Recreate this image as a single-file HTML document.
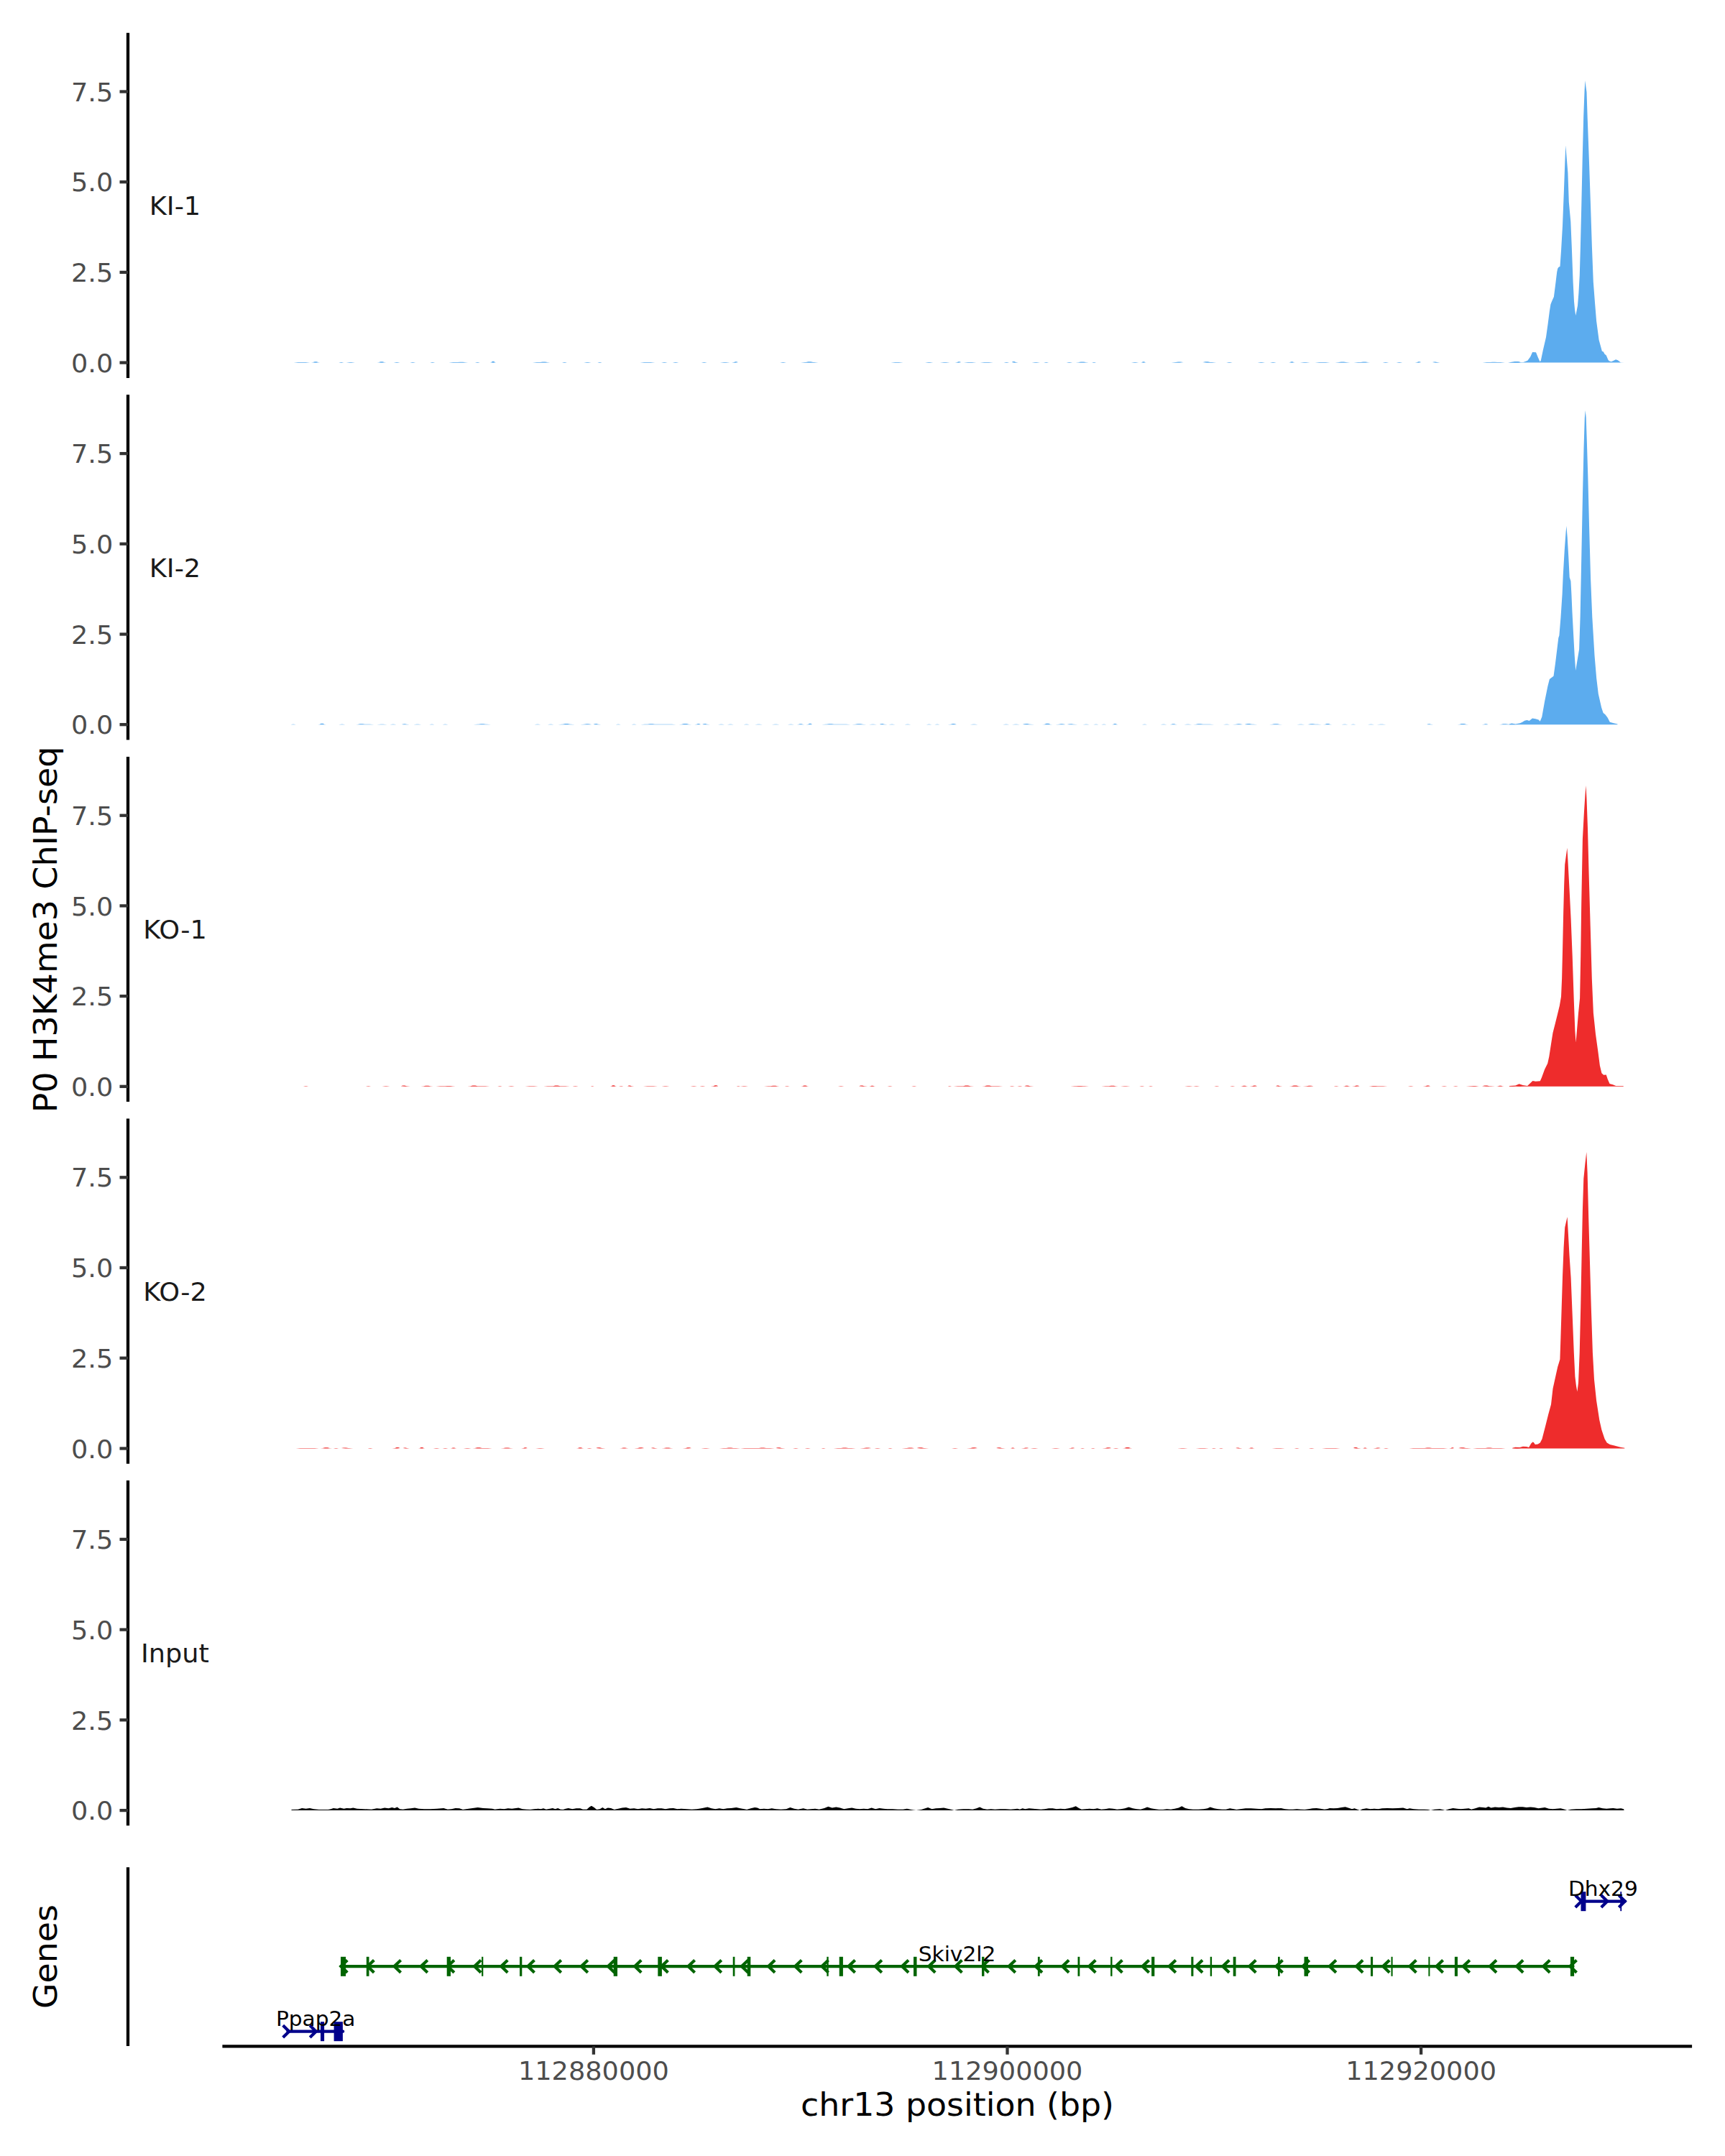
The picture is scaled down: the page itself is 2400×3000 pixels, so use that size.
<!DOCTYPE html>
<html lang="en"><head><meta charset="utf-8"><title>chr13 H3K4me3 ChIP-seq coverage</title>
<style>html,body{margin:0;padding:0;background:#fff}body{width:2400px;height:3000px;overflow:hidden}svg{display:block}text{font-family:"DejaVu Sans","Liberation Sans",sans-serif}.tk{font-size:36.67px;fill:#4d4d4d}.lb{font-size:36.67px;fill:#1a1a1a}.ti{font-size:45.83px;fill:#000}.gn{font-size:29.64px;fill:#000}</style></head><body>
<svg width="2400" height="3000" viewBox="0 0 2400 3000">
<rect width="2400" height="3000" fill="#fff"/>
<g>
<line x1="178.0" y1="45.7" x2="178.0" y2="525.9" stroke="#000" stroke-width="4.3"/>
<line x1="166.5" y1="504.6" x2="178.0" y2="504.6" stroke="#333" stroke-width="4.3"/>
<text class="tk" transform="translate(157.3,518.0) scale(1,0.965)" text-anchor="end">0.0</text>
<line x1="166.5" y1="378.9" x2="178.0" y2="378.9" stroke="#333" stroke-width="4.3"/>
<text class="tk" transform="translate(157.3,392.0) scale(1,0.965)" text-anchor="end">2.5</text>
<line x1="166.5" y1="253.2" x2="178.0" y2="253.2" stroke="#333" stroke-width="4.3"/>
<text class="tk" transform="translate(157.3,266.0) scale(1,0.965)" text-anchor="end">5.0</text>
<line x1="166.5" y1="127.5" x2="178.0" y2="127.5" stroke="#333" stroke-width="4.3"/>
<text class="tk" transform="translate(157.3,141.0) scale(1,0.965)" text-anchor="end">7.5</text>
<text class="lb" transform="translate(243.5,299.0) scale(1,0.965)" text-anchor="middle">KI-1</text>
<path d="M2100.0,504.6L2100.0,504.2L2107.8,502.9L2111.7,502.9L2115.6,504.2L2119.5,503.9L2125.3,501.7L2129.2,496.5L2132.1,490.0L2137.0,490.2L2139.9,497.4L2142.5,503.3L2143.8,501.7L2146.7,487.7L2151.0,469.2L2153.6,450.7L2155.9,433.1L2157.4,423.4L2159.4,418.5L2161.9,413.1L2164.3,394.2L2166.2,378.6L2167.2,373.7L2168.5,371.8L2170.5,370.8L2172.1,347.4L2174.0,314.3L2175.9,265.6L2177.3,226.6L2178.3,202.3L2179.8,220.8L2181.4,240.3L2182.8,281.2L2185.3,308.5L2186.7,341.6L2188.6,392.2L2190.0,419.5L2191.1,431.2L2192.3,439.0L2193.5,433.1L2195.0,425.3L2196.4,407.8L2197.8,382.5L2198.9,343.5L2200.3,285.1L2201.7,220.8L2203.2,162.3L2204.6,125.3L2205.4,112.1L2206.3,119.5L2207.5,128.2L2208.7,164.3L2211.0,226.6L2213.0,285.1L2214.9,343.5L2216.8,392.2L2219.2,423.4L2221.1,446.8L2224.6,473.1L2227.0,481.8L2228.9,488.7L2230.9,489.6L2232.4,492.6L2234.8,494.5L2237.3,500.4L2238.7,502.3L2241.8,503.3L2245.1,501.7L2248.0,500.2L2250.9,501.3L2254.8,504.2L2259.7,504.6L2259.7,504.6 Z" fill="#5CACEE"/>
<path d="M408.7,504.65 L414.7,504.10 L425.3,504.10 L431.3,504.65 ZM433.0,504.65 L437.9,504.10 L435.5,504.10 L437.9,503.27 L440.4,503.27 L442.8,504.10 L440.3,504.10 L445.2,504.65 ZM471.3,504.65 L474.1,504.10 L475.5,504.10 L478.3,504.65 ZM481.7,504.65 L486.6,504.10 L489.0,504.10 L493.9,504.65 ZM524.5,504.65 L529.7,504.10 L527.1,504.10 L529.6,503.37 L532.3,503.37 L534.8,504.10 L532.2,504.10 L537.4,504.65 ZM547.8,504.65 L551.3,504.10 L553.0,504.10 L556.5,504.65 ZM570.4,504.65 L573.5,504.10 L575.0,504.10 L578.1,504.65 ZM598.3,504.65 L601.0,504.10 L602.4,504.10 L605.2,504.65 ZM624.3,504.65 L630.3,504.10 L636.8,504.10 L640.0,503.67 L643.5,503.67 L646.8,504.10 L645.1,504.10 L651.1,504.65 ZM660.9,504.65 L663.7,504.10 L665.0,504.10 L667.8,504.65 ZM681.7,504.65 L685.2,504.10 L683.5,504.10 L685.2,502.87 L687.0,502.87 L688.7,504.10 L687.0,504.10 L690.4,504.65 ZM740.9,504.65 L746.9,504.10 L751.7,504.10 L754.9,503.62 L758.4,503.62 L761.7,504.10 L759.2,504.10 L765.2,504.65 ZM781.9,504.65 L784.7,504.10 L786.1,504.10 L788.9,504.65 ZM812.2,504.65 L816.3,504.10 L818.4,504.10 L822.6,504.65 ZM831.3,504.65 L833.8,504.10 L835.1,504.10 L837.6,504.65 ZM890.4,504.65 L896.4,504.10 L905.3,504.10 L911.3,504.65 ZM920.0,504.65 L923.5,504.10 L925.2,504.10 L928.7,504.65 ZM935.7,504.65 L939.1,504.10 L940.9,504.10 L944.3,504.65 ZM975.7,504.65 L978.9,504.10 L980.5,504.10 L983.7,504.65 ZM1001.7,504.65 L1007.3,504.10 L1010.1,504.10 L1015.7,504.65 ZM1018.1,504.65 L1021.7,504.10 L1021.3,504.10 L1023.0,503.27 L1024.9,503.27 L1026.7,504.10 L1023.5,504.10 L1027.1,504.65 ZM1085.2,504.65 L1088.7,504.10 L1090.4,504.10 L1093.9,504.65 ZM1114.1,504.65 L1120.1,504.10 L1121.3,504.10 L1124.5,503.22 L1128.0,503.22 L1131.3,504.10 L1132.4,504.10 L1138.4,504.65 ZM1239.3,504.65 L1245.3,504.10 L1250.7,504.10 L1256.7,504.65 ZM1287.0,504.65 L1291.5,504.10 L1293.8,504.10 L1298.4,504.65 ZM1307.8,504.65 L1313.4,504.10 L1316.2,504.10 L1321.7,504.65 ZM1328.7,504.65 L1332.2,504.10 L1331.7,504.10 L1333.4,503.27 L1335.3,503.27 L1337.0,504.10 L1333.9,504.10 L1337.4,504.65 ZM1340.9,504.65 L1346.9,504.10 L1352.3,504.10 L1358.3,504.65 ZM1363.5,504.65 L1369.5,504.10 L1375.9,504.10 L1381.9,504.65 ZM1396.5,504.65 L1399.6,504.10 L1401.1,504.10 L1404.2,504.65 ZM1407.7,504.65 L1411.3,504.10 L1407.7,504.10 L1409.4,503.07 L1411.3,503.07 L1413.1,504.10 L1413.1,504.10 L1416.7,504.65 ZM1435.5,504.65 L1440.1,504.10 L1442.4,504.10 L1447.0,504.65 ZM1452.2,504.65 L1455.0,504.10 L1456.3,504.10 L1459.1,504.65 ZM1483.5,504.65 L1487.0,504.10 L1488.7,504.10 L1492.2,504.65 ZM1496.7,504.65 L1502.7,504.10 L1500.7,504.10 L1504.0,503.47 L1507.5,503.47 L1510.7,504.10 L1508.8,504.10 L1514.8,504.65 ZM1519.0,504.65 L1521.5,504.10 L1522.7,504.10 L1525.2,504.65 ZM1573.9,504.65 L1578.1,504.10 L1580.2,504.10 L1584.3,504.65 ZM1587.1,504.65 L1590.2,504.10 L1588.7,504.10 L1590.2,503.17 L1591.8,503.17 L1593.3,504.10 L1591.7,504.10 L1594.8,504.65 ZM1629.6,504.65 L1635.6,504.10 L1635.9,504.10 L1639.1,503.57 L1642.6,503.57 L1645.9,504.10 L1641.0,504.10 L1647.0,504.65 ZM1673.0,504.65 L1679.0,504.10 L1673.8,504.10 L1677.0,503.37 L1680.5,503.37 L1683.8,504.10 L1686.2,504.10 L1692.2,504.65 ZM1706.1,504.65 L1709.6,504.10 L1711.3,504.10 L1714.8,504.65 ZM1749.6,504.65 L1753.7,504.10 L1755.8,504.10 L1760.0,504.65 ZM1767.0,504.65 L1770.4,504.10 L1772.2,504.10 L1775.7,504.65 ZM1793.0,504.65 L1796.5,504.10 L1794.8,504.10 L1796.5,503.27 L1798.3,503.27 L1800.0,504.10 L1798.3,504.10 L1801.7,504.65 ZM1808.7,504.65 L1814.3,504.10 L1817.0,504.10 L1822.6,504.65 ZM1829.6,504.65 L1835.6,504.10 L1844.4,504.10 L1850.4,504.65 ZM1857.4,504.65 L1863.4,504.10 L1862.8,504.10 L1866.1,503.57 L1869.6,503.57 L1872.8,504.10 L1872.3,504.10 L1878.3,504.65 ZM1883.5,504.65 L1889.5,504.10 L1893.2,504.10 L1896.4,503.47 L1899.9,503.47 L1903.2,504.10 L1900.1,504.10 L1906.1,504.65 ZM1923.5,504.65 L1927.0,504.10 L1928.7,504.10 L1932.2,504.65 ZM1942.6,504.65 L1946.1,504.10 L1947.8,504.10 L1951.3,504.65 ZM1968.7,504.65 L1972.2,504.10 L1971.7,504.10 L1973.4,503.27 L1975.3,503.27 L1977.0,504.10 L1973.9,504.10 L1977.4,504.65 ZM1993.0,504.65 L1997.2,504.10 L1993.0,504.10 L1995.1,503.57 L1997.3,503.57 L1999.3,504.10 L1999.3,504.10 L2003.5,504.65 ZM2062.6,504.65 L2068.6,504.10 L2073.3,504.10 L2076.5,503.67 L2080.0,503.67 L2083.3,504.10 L2087.9,504.10 L2093.9,504.65 ZM2097.4,504.65 L2103.4,504.10 L2106.0,504.10 L2109.2,503.37 L2112.7,503.37 L2116.0,504.10 L2112.3,504.10 L2118.3,504.65 Z" fill="#5CACEE"/>
</g>
<g>
<line x1="178.0" y1="549.3" x2="178.0" y2="1029.5" stroke="#000" stroke-width="4.3"/>
<line x1="166.5" y1="1008.2" x2="178.0" y2="1008.2" stroke="#333" stroke-width="4.3"/>
<text class="tk" transform="translate(157.3,1021.0) scale(1,0.965)" text-anchor="end">0.0</text>
<line x1="166.5" y1="882.5" x2="178.0" y2="882.5" stroke="#333" stroke-width="4.3"/>
<text class="tk" transform="translate(157.3,896.0) scale(1,0.965)" text-anchor="end">2.5</text>
<line x1="166.5" y1="756.8" x2="178.0" y2="756.8" stroke="#333" stroke-width="4.3"/>
<text class="tk" transform="translate(157.3,770.0) scale(1,0.965)" text-anchor="end">5.0</text>
<line x1="166.5" y1="631.1" x2="178.0" y2="631.1" stroke="#333" stroke-width="4.3"/>
<text class="tk" transform="translate(157.3,644.0) scale(1,0.965)" text-anchor="end">7.5</text>
<text class="lb" transform="translate(243.5,803.0) scale(1,0.965)" text-anchor="middle">KI-2</text>
<path d="M2100.0,1008.2L2100.0,1007.4L2103.2,1006.6L2108.5,1007.4L2114.9,1006.3L2118.1,1004.8L2121.3,1002.7L2124.5,1002.1L2127.7,1002.9L2132.0,999.5L2136.3,1000.2L2140.6,1001.6L2142.7,1003.8L2145.3,997.4L2149.1,976.0L2153.4,954.7L2155.9,945.1L2161.5,940.8L2164.0,922.7L2166.6,901.4L2168.3,887.5L2169.4,884.3L2171.5,858.7L2173.6,826.7L2174.7,801.1L2176.8,764.8L2178.5,741.4L2179.4,731.8L2180.7,747.8L2182.2,773.4L2183.7,803.2L2185.4,808.6L2186.4,826.7L2187.5,852.3L2189.2,884.3L2190.7,912.0L2192.2,932.9L2193.9,922.7L2197.1,903.5L2198.6,858.7L2200.3,773.4L2202.0,688.0L2203.5,624.0L2204.8,581.3L2205.7,571.1L2206.7,581.3L2207.8,613.3L2209.3,662.4L2211.0,730.7L2213.1,805.4L2215.3,858.7L2218.5,912.0L2221.2,944.0L2223.8,965.4L2228.1,984.6L2230.6,992.0L2233.4,994.2L2236.6,998.4L2239.8,1004.8L2245.1,1006.3L2250.5,1007.4L2250.5,1008.2 Z" fill="#5CACEE"/>
<path d="M404.4,1008.25 L407.3,1007.70 L408.8,1007.70 L411.7,1008.25 ZM442.0,1008.25 L446.8,1007.70 L444.4,1007.70 L446.8,1006.73 L449.3,1006.73 L451.6,1007.70 L449.2,1007.70 L454.1,1008.25 ZM471.2,1008.25 L474.9,1007.70 L476.7,1007.70 L480.4,1008.25 ZM495.0,1008.25 L501.0,1007.70 L497.6,1007.70 L500.9,1007.23 L504.4,1007.23 L507.6,1007.70 L514.5,1007.70 L520.5,1008.25 ZM524.2,1008.25 L530.0,1007.70 L532.9,1007.70 L538.8,1008.25 ZM542.4,1008.25 L546.1,1007.70 L547.9,1007.70 L551.6,1008.25 ZM558.9,1008.25 L563.3,1007.70 L558.9,1007.70 L561.0,1007.18 L563.3,1007.18 L565.4,1007.70 L565.4,1007.70 L569.8,1008.25 ZM575.3,1008.25 L579.7,1007.70 L581.9,1007.70 L586.3,1008.25 ZM597.2,1008.25 L600.1,1007.70 L601.6,1007.70 L604.5,1008.25 ZM615.5,1008.25 L618.7,1007.70 L620.3,1007.70 L623.5,1008.25 ZM658.6,1008.25 L664.6,1007.70 L665.8,1007.70 L669.1,1007.18 L672.6,1007.18 L675.8,1007.70 L677.1,1007.70 L683.1,1008.25 ZM743.3,1008.25 L747.0,1007.70 L748.8,1007.70 L752.4,1008.25 ZM761.6,1008.25 L765.2,1007.70 L767.1,1007.70 L770.7,1008.25 ZM776.2,1008.25 L782.2,1007.70 L783.1,1007.70 L786.3,1007.08 L789.8,1007.08 L793.1,1007.70 L793.9,1007.70 L799.9,1008.25 ZM807.2,1008.25 L813.2,1007.70 L813.0,1007.70 L816.2,1007.18 L819.6,1007.18 L822.8,1007.70 L817.7,1007.70 L823.7,1008.25 ZM825.5,1008.25 L829.9,1007.70 L825.5,1007.70 L827.6,1006.98 L829.9,1006.98 L832.1,1007.70 L832.1,1007.70 L836.4,1008.25 ZM856.5,1008.25 L859.5,1007.70 L860.9,1007.70 L863.8,1008.25 ZM878.5,1008.25 L881.4,1007.70 L882.8,1007.70 L885.8,1008.25 ZM891.2,1008.25 L897.2,1007.70 L901.0,1007.70 L904.3,1007.23 L907.8,1007.23 L911.0,1007.70 L934.5,1007.70 L940.5,1008.25 ZM944.2,1008.25 L950.2,1007.70 L948.3,1007.70 L951.6,1006.98 L955.1,1006.98 L958.3,1007.70 L956.5,1007.70 L962.5,1008.25 ZM966.1,1008.25 L969.8,1007.70 L969.3,1007.70 L971.1,1006.88 L973.0,1006.88 L974.8,1007.70 L971.6,1007.70 L975.2,1008.25 ZM977.1,1008.25 L981.4,1007.70 L977.1,1007.70 L979.2,1006.88 L981.5,1006.88 L983.6,1007.70 L983.6,1007.70 L988.0,1008.25 ZM999.0,1008.25 L1002.6,1007.70 L1004.5,1007.70 L1008.1,1008.25 ZM1011.8,1008.25 L1015.4,1007.70 L1017.2,1007.70 L1020.9,1008.25 ZM1034.4,1008.25 L1037.7,1007.70 L1039.4,1007.70 L1042.8,1008.25 ZM1050.1,1008.25 L1054.5,1007.70 L1056.7,1007.70 L1061.0,1008.25 ZM1073.8,1008.25 L1078.2,1007.70 L1080.4,1007.70 L1084.8,1008.25 ZM1095.7,1008.25 L1099.4,1007.70 L1101.2,1007.70 L1104.9,1008.25 ZM1108.5,1008.25 L1112.9,1007.70 L1110.7,1007.70 L1112.9,1007.18 L1115.2,1007.18 L1117.3,1007.70 L1115.1,1007.70 L1119.5,1008.25 ZM1121.3,1008.25 L1125.0,1007.70 L1124.5,1007.70 L1126.3,1006.68 L1128.2,1006.68 L1130.0,1007.70 L1126.8,1007.70 L1130.4,1008.25 ZM1143.2,1008.25 L1149.2,1007.70 L1150.3,1007.70 L1153.5,1007.23 L1157.0,1007.23 L1160.3,1007.70 L1177.4,1007.70 L1183.4,1008.25 ZM1185.2,1008.25 L1191.2,1007.70 L1190.3,1007.70 L1193.5,1007.18 L1197.0,1007.18 L1200.3,1007.70 L1199.3,1007.70 L1205.3,1008.25 ZM1209.0,1008.25 L1213.3,1007.70 L1215.5,1007.70 L1219.9,1008.25 ZM1223.6,1008.25 L1228.0,1007.70 L1223.6,1007.70 L1225.7,1007.08 L1228.0,1007.08 L1230.1,1007.70 L1230.1,1007.70 L1234.5,1008.25 ZM1236.4,1008.25 L1240.0,1007.70 L1241.8,1007.70 L1245.5,1008.25 ZM1258.3,1008.25 L1261.9,1007.70 L1263.7,1007.70 L1267.4,1008.25 ZM1288.6,1008.25 L1291.8,1007.70 L1293.4,1007.70 L1296.6,1008.25 ZM1300.3,1008.25 L1303.2,1007.70 L1304.7,1007.70 L1307.6,1008.25 ZM1318.5,1008.25 L1323.6,1007.70 L1323.0,1007.70 L1325.5,1007.08 L1328.2,1007.08 L1330.7,1007.70 L1326.2,1007.70 L1331.3,1008.25 ZM1349.6,1008.25 L1354.0,1007.70 L1356.2,1007.70 L1360.5,1008.25 ZM1395.2,1008.25 L1398.9,1007.70 L1400.7,1007.70 L1404.4,1008.25 ZM1408.0,1008.25 L1412.4,1007.70 L1414.6,1007.70 L1419.0,1008.25 ZM1422.6,1008.25 L1428.6,1007.70 L1422.6,1007.70 L1425.8,1006.98 L1429.3,1006.98 L1432.5,1007.70 L1433.1,1007.70 L1439.1,1008.25 ZM1450.0,1008.25 L1455.9,1007.70 L1452.9,1007.70 L1455.8,1006.78 L1458.9,1006.78 L1461.7,1007.70 L1458.8,1007.70 L1464.6,1008.25 ZM1468.3,1008.25 L1474.1,1007.70 L1473.4,1007.70 L1476.2,1007.28 L1479.3,1007.28 L1482.2,1007.70 L1477.0,1007.70 L1482.9,1008.25 ZM1484.7,1008.25 L1490.6,1007.70 L1484.7,1007.70 L1487.6,1007.18 L1490.6,1007.18 L1493.5,1007.70 L1493.5,1007.70 L1499.3,1008.25 ZM1506.6,1008.25 L1510.3,1007.70 L1512.1,1007.70 L1515.8,1008.25 ZM1521.2,1008.25 L1524.2,1007.70 L1525.6,1007.70 L1528.5,1008.25 ZM1532.2,1008.25 L1535.1,1007.70 L1536.6,1007.70 L1539.5,1008.25 ZM1546.8,1008.25 L1550.5,1007.70 L1548.6,1007.70 L1550.4,1006.98 L1552.3,1006.98 L1554.1,1007.70 L1552.3,1007.70 L1555.9,1008.25 ZM1588.8,1008.25 L1591.7,1007.70 L1593.2,1007.70 L1596.1,1008.25 ZM1614.4,1008.25 L1618.0,1007.70 L1619.8,1007.70 L1623.5,1008.25 ZM1627.2,1008.25 L1631.5,1007.70 L1629.3,1007.70 L1631.5,1007.18 L1633.8,1007.18 L1635.9,1007.70 L1633.7,1007.70 L1638.1,1008.25 ZM1647.2,1008.25 L1651.6,1007.70 L1653.8,1007.70 L1658.2,1008.25 ZM1660.0,1008.25 L1666.0,1007.70 L1663.8,1007.70 L1667.0,1007.23 L1670.5,1007.23 L1673.8,1007.70 L1683.2,1007.70 L1689.2,1008.25 ZM1702.0,1008.25 L1705.7,1007.70 L1707.5,1007.70 L1711.1,1008.25 ZM1714.8,1008.25 L1720.6,1007.70 L1719.9,1007.70 L1722.7,1007.28 L1725.8,1007.28 L1728.7,1007.70 L1723.6,1007.70 L1729.4,1008.25 ZM1731.2,1008.25 L1737.2,1007.70 L1731.7,1007.70 L1734.9,1006.98 L1738.4,1006.98 L1741.7,1007.70 L1743.5,1007.70 L1749.5,1008.25 ZM1765.9,1008.25 L1771.9,1007.70 L1770.0,1007.70 L1773.3,1007.18 L1776.8,1007.18 L1780.0,1007.70 L1778.2,1007.70 L1784.2,1008.25 ZM1804.3,1008.25 L1808.6,1007.70 L1810.8,1007.70 L1815.2,1008.25 ZM1818.9,1008.25 L1824.9,1007.70 L1819.9,1007.70 L1823.2,1007.18 L1826.7,1007.18 L1829.9,1007.70 L1833.0,1007.70 L1839.0,1008.25 ZM1840.8,1008.25 L1845.9,1007.70 L1843.3,1007.70 L1845.8,1006.98 L1848.5,1006.98 L1851.0,1007.70 L1848.5,1007.70 L1853.6,1008.25 ZM1866.4,1008.25 L1870.0,1007.70 L1871.8,1007.70 L1875.5,1008.25 ZM1879.1,1008.25 L1882.1,1007.70 L1883.5,1007.70 L1886.4,1008.25 ZM1902.9,1008.25 L1906.5,1007.70 L1908.4,1007.70 L1912.0,1008.25 ZM1915.7,1008.25 L1920.8,1007.70 L1923.3,1007.70 L1928.4,1008.25 ZM1985.1,1008.25 L1988.7,1007.70 L1985.1,1007.70 L1986.8,1007.18 L1988.8,1007.18 L1990.5,1007.70 L1990.5,1007.70 L1994.2,1008.25 ZM2027.1,1008.25 L2033.1,1007.70 L2030.3,1007.70 L2033.5,1007.08 L2037.0,1007.08 L2040.2,1007.70 L2037.5,1007.70 L2043.5,1008.25 ZM2061.8,1008.25 L2065.4,1007.70 L2064.9,1007.70 L2066.7,1007.18 L2068.6,1007.18 L2070.4,1007.70 L2067.2,1007.70 L2070.9,1008.25 ZM2085.5,1008.25 L2091.5,1007.70 L2088.2,1007.70 L2091.4,1007.18 L2094.9,1007.18 L2098.2,1007.70 L2105.1,1007.70 L2111.1,1008.25 Z" fill="#5CACEE"/>
</g>
<g>
<line x1="178.0" y1="1052.9" x2="178.0" y2="1533.1" stroke="#000" stroke-width="4.3"/>
<line x1="166.5" y1="1511.8" x2="178.0" y2="1511.8" stroke="#333" stroke-width="4.3"/>
<text class="tk" transform="translate(157.3,1525.0) scale(1,0.965)" text-anchor="end">0.0</text>
<line x1="166.5" y1="1386.1" x2="178.0" y2="1386.1" stroke="#333" stroke-width="4.3"/>
<text class="tk" transform="translate(157.3,1399.0) scale(1,0.965)" text-anchor="end">2.5</text>
<line x1="166.5" y1="1260.4" x2="178.0" y2="1260.4" stroke="#333" stroke-width="4.3"/>
<text class="tk" transform="translate(157.3,1274.0) scale(1,0.965)" text-anchor="end">5.0</text>
<line x1="166.5" y1="1134.7" x2="178.0" y2="1134.7" stroke="#333" stroke-width="4.3"/>
<text class="tk" transform="translate(157.3,1148.0) scale(1,0.965)" text-anchor="end">7.5</text>
<text class="lb" transform="translate(243.5,1306.0) scale(1,0.965)" text-anchor="middle">KO-1</text>
<path d="M2100.0,1511.8L2100.0,1511.0L2108.4,1510.6L2113.6,1508.3L2118.8,1510.0L2125.1,1511.0L2128.2,1507.9L2132.4,1504.1L2136.5,1504.8L2142.8,1504.3L2144.9,1499.5L2149.1,1488.1L2153.2,1479.7L2155.3,1470.3L2158.5,1449.4L2160.5,1436.9L2163.7,1424.4L2166.8,1411.9L2169.9,1399.3L2172.0,1386.8L2173.1,1361.8L2174.1,1320.0L2175.2,1267.9L2176.2,1230.3L2177.2,1203.1L2178.9,1190.6L2180.4,1179.8L2181.4,1196.9L2183.5,1236.5L2185.6,1278.3L2187.7,1330.5L2189.8,1393.1L2191.4,1434.8L2192.5,1450.5L2193.9,1434.8L2196.0,1409.8L2198.1,1388.9L2199.2,1330.5L2200.2,1257.4L2201.9,1167.7L2203.8,1132.2L2205.4,1107.1L2206.5,1092.9L2207.5,1111.3L2209.0,1153.1L2210.6,1215.7L2212.7,1288.7L2214.8,1361.8L2216.9,1409.8L2220.0,1439.0L2223.2,1462.0L2225.9,1482.8L2228.4,1493.3L2231.1,1495.8L2234.7,1495.4L2236.7,1501.6L2239.5,1507.9L2244.1,1509.3L2248.2,1511.0L2258.7,1511.0L2258.7,1511.8 Z" fill="#EE2C2C"/>
<path d="M421.9,1511.85 L424.8,1511.30 L426.3,1511.30 L429.2,1511.85 ZM508.8,1511.85 L511.8,1511.30 L513.2,1511.30 L516.1,1511.85 ZM531.5,1511.85 L535.9,1511.30 L538.1,1511.30 L542.4,1511.85 ZM557.8,1511.85 L563.0,1511.30 L557.8,1511.30 L560.3,1510.38 L563.1,1510.38 L565.7,1511.30 L565.7,1511.30 L570.9,1511.85 ZM585.5,1511.85 L591.5,1511.30 L589.1,1511.30 L592.4,1510.77 L595.9,1510.77 L599.1,1511.30 L596.7,1511.30 L602.7,1511.85 ZM606.4,1511.85 L612.4,1511.30 L619.2,1511.30 L622.4,1510.88 L625.9,1510.88 L629.2,1511.30 L627.7,1511.30 L633.7,1511.85 ZM650.2,1511.85 L656.2,1511.30 L654.5,1511.30 L657.7,1510.38 L661.2,1510.38 L664.5,1511.30 L675.2,1511.30 L681.2,1511.85 ZM692.2,1511.85 L694.8,1511.30 L696.1,1511.30 L698.8,1511.85 ZM706.8,1511.85 L710.4,1511.30 L712.3,1511.30 L715.9,1511.85 ZM730.5,1511.85 L736.5,1511.30 L742.8,1511.30 L748.8,1511.85 ZM756.1,1511.85 L762.1,1511.30 L769.4,1511.30 L772.6,1510.47 L776.1,1510.47 L779.4,1511.30 L786.6,1511.30 L792.6,1511.85 ZM796.3,1511.85 L799.6,1511.30 L801.3,1511.30 L804.7,1511.85 ZM821.8,1511.85 L823.7,1511.30 L824.7,1511.30 L826.6,1511.85 ZM848.5,1511.85 L852.4,1511.30 L850.5,1511.30 L852.4,1510.27 L854.5,1510.27 L856.4,1511.30 L854.4,1511.30 L858.4,1511.85 ZM860.9,1511.85 L863.6,1511.30 L864.9,1511.30 L867.5,1511.85 ZM873.0,1511.85 L876.6,1511.30 L873.0,1511.30 L874.8,1510.47 L876.7,1510.47 L878.5,1511.30 L878.5,1511.30 L882.1,1511.85 ZM894.9,1511.85 L900.9,1511.30 L909.0,1511.30 L915.0,1511.85 ZM920.5,1511.85 L924.8,1511.30 L927.0,1511.30 L931.4,1511.85 ZM960.6,1511.85 L964.3,1511.30 L966.1,1511.30 L969.8,1511.85 ZM973.4,1511.85 L976.6,1511.30 L978.2,1511.30 L981.4,1511.85 ZM988.8,1511.85 L993.1,1511.30 L992.6,1511.30 L994.7,1510.27 L997.0,1510.27 L999.2,1511.30 L995.3,1511.30 L999.7,1511.85 ZM1024.5,1511.85 L1026.7,1511.30 L1027.8,1511.30 L1030.0,1511.85 ZM1030.0,1511.85 L1034.4,1511.30 L1036.6,1511.30 L1041.0,1511.85 ZM1062.9,1511.85 L1068.9,1511.30 L1072.1,1511.30 L1075.4,1510.77 L1078.9,1510.77 L1082.1,1511.30 L1078.8,1511.30 L1084.8,1511.85 ZM1091.4,1511.85 L1094.3,1511.30 L1095.7,1511.30 L1098.7,1511.85 ZM1114.0,1511.85 L1118.7,1511.30 L1116.3,1511.30 L1118.6,1510.58 L1121.1,1510.58 L1123.4,1511.30 L1121.0,1511.30 L1125.7,1511.85 ZM1165.9,1511.85 L1169.2,1511.30 L1170.9,1511.30 L1174.3,1511.85 ZM1195.1,1511.85 L1199.9,1511.30 L1195.1,1511.30 L1197.4,1510.47 L1200.0,1510.47 L1202.3,1511.30 L1202.3,1511.30 L1207.1,1511.85 ZM1209.0,1511.85 L1212.6,1511.30 L1210.8,1511.30 L1212.6,1510.77 L1214.5,1510.77 L1216.3,1511.30 L1214.4,1511.30 L1218.1,1511.85 ZM1234.5,1511.85 L1237.5,1511.30 L1238.9,1511.30 L1241.8,1511.85 ZM1268.1,1511.85 L1271.1,1511.30 L1272.5,1511.30 L1275.4,1511.85 ZM1318.5,1511.85 L1320.7,1511.30 L1321.8,1511.30 L1324.0,1511.85 ZM1326.6,1511.85 L1332.6,1511.30 L1340.1,1511.30 L1343.3,1510.58 L1346.8,1510.58 L1350.1,1511.30 L1349.1,1511.30 L1355.1,1511.85 ZM1366.0,1511.85 L1372.0,1511.30 L1369.8,1511.30 L1373.0,1510.47 L1376.5,1510.47 L1379.8,1511.30 L1389.2,1511.30 L1395.2,1511.85 ZM1404.4,1511.85 L1407.3,1511.30 L1408.7,1511.30 L1411.7,1511.85 ZM1415.3,1511.85 L1418.2,1511.30 L1419.7,1511.30 L1422.6,1511.85 ZM1425.2,1511.85 L1430.4,1511.30 L1425.2,1511.30 L1427.7,1510.47 L1430.5,1510.47 L1433.1,1511.30 L1433.1,1511.30 L1438.3,1511.85 ZM1489.5,1511.85 L1495.5,1511.30 L1497.2,1511.30 L1500.5,1510.88 L1504.0,1510.88 L1507.2,1511.30 L1509.0,1511.30 L1515.0,1511.85 ZM1532.2,1511.85 L1538.2,1511.30 L1542.6,1511.30 L1545.9,1510.77 L1549.4,1510.77 L1552.6,1511.30 L1549.9,1511.30 L1555.9,1511.85 ZM1558.9,1511.85 L1564.3,1511.30 L1567.0,1511.30 L1572.4,1511.85 ZM1585.1,1511.85 L1588.1,1511.30 L1589.5,1511.30 L1592.5,1511.85 ZM1597.9,1511.85 L1600.4,1511.30 L1601.7,1511.30 L1604.1,1511.85 ZM1648.0,1511.85 L1652.8,1511.30 L1655.2,1511.30 L1660.0,1511.85 ZM1660.0,1511.85 L1663.7,1511.30 L1665.5,1511.30 L1669.1,1511.85 ZM1689.2,1511.85 L1692.1,1511.30 L1693.6,1511.30 L1696.5,1511.85 ZM1711.1,1511.85 L1714.1,1511.30 L1715.5,1511.30 L1718.4,1511.85 ZM1725.7,1511.85 L1730.1,1511.30 L1727.9,1511.30 L1730.1,1510.77 L1732.4,1510.77 L1734.5,1511.30 L1732.3,1511.30 L1736.7,1511.85 ZM1738.5,1511.85 L1742.9,1511.30 L1742.4,1511.30 L1744.5,1510.58 L1746.8,1510.58 L1748.9,1511.30 L1745.1,1511.30 L1749.5,1511.85 ZM1775.0,1511.85 L1778.7,1511.30 L1775.0,1511.30 L1776.8,1510.58 L1778.7,1510.58 L1780.5,1511.30 L1780.5,1511.30 L1784.2,1511.85 ZM1793.3,1511.85 L1799.3,1511.30 L1796.9,1511.30 L1800.1,1510.58 L1803.6,1510.58 L1806.9,1511.30 L1804.5,1511.30 L1810.5,1511.85 ZM1812.7,1511.85 L1818.7,1511.30 L1818.0,1511.30 L1821.0,1510.77 L1824.2,1510.77 L1827.2,1511.30 L1822.0,1511.30 L1828.0,1511.85 ZM1855.4,1511.85 L1858.3,1511.30 L1859.8,1511.30 L1862.7,1511.85 ZM1868.2,1511.85 L1872.6,1511.30 L1870.4,1511.30 L1872.5,1510.67 L1874.8,1510.67 L1876.9,1511.30 L1874.8,1511.30 L1879.1,1511.85 ZM1881.0,1511.85 L1885.3,1511.30 L1884.8,1511.30 L1886.9,1510.47 L1889.2,1510.47 L1891.4,1511.30 L1887.5,1511.30 L1891.9,1511.85 ZM1904.0,1511.85 L1910.0,1511.30 L1906.9,1511.30 L1910.1,1510.88 L1913.6,1510.88 L1916.9,1511.30 L1924.3,1511.30 L1930.3,1511.85 ZM1958.8,1511.85 L1962.0,1511.30 L1963.6,1511.30 L1966.8,1511.85 ZM1979.6,1511.85 L1984.0,1511.30 L1983.4,1511.30 L1985.5,1510.38 L1987.8,1510.38 L1990.0,1511.30 L1986.2,1511.30 L1990.5,1511.85 ZM2005.1,1511.85 L2008.5,1511.30 L2010.2,1511.30 L2013.5,1511.85 ZM2021.6,1511.85 L2024.5,1511.30 L2026.0,1511.30 L2028.9,1511.85 ZM2039.8,1511.85 L2045.8,1511.30 L2046.7,1511.30 L2050.0,1510.88 L2053.5,1510.88 L2056.7,1511.30 L2052.1,1511.30 L2058.1,1511.85 ZM2061.8,1511.85 L2067.8,1511.30 L2062.2,1511.30 L2065.5,1510.47 L2069.0,1510.47 L2072.2,1511.30 L2074.0,1511.30 L2080.0,1511.85 ZM2081.8,1511.85 L2086.2,1511.30 L2084.0,1511.30 L2086.2,1510.77 L2088.5,1510.77 L2090.6,1511.30 L2088.4,1511.30 L2092.8,1511.85 ZM2098.3,1511.85 L2102.7,1511.30 L2102.1,1511.30 L2104.2,1510.88 L2106.5,1510.88 L2108.7,1511.30 L2104.9,1511.30 L2109.2,1511.85 ZM2110.0,1511.85 L2114.1,1511.30 L2110.0,1511.30 L2112.0,1510.08 L2114.1,1510.08 L2116.1,1511.30 L2116.1,1511.30 L2120.2,1511.85 Z" fill="#EE2C2C"/>
</g>
<g>
<line x1="178.0" y1="1556.5" x2="178.0" y2="2036.7" stroke="#000" stroke-width="4.3"/>
<line x1="166.5" y1="2015.5" x2="178.0" y2="2015.5" stroke="#333" stroke-width="4.3"/>
<text class="tk" transform="translate(157.3,2029.0) scale(1,0.965)" text-anchor="end">0.0</text>
<line x1="166.5" y1="1889.7" x2="178.0" y2="1889.7" stroke="#333" stroke-width="4.3"/>
<text class="tk" transform="translate(157.3,1903.0) scale(1,0.965)" text-anchor="end">2.5</text>
<line x1="166.5" y1="1764.0" x2="178.0" y2="1764.0" stroke="#333" stroke-width="4.3"/>
<text class="tk" transform="translate(157.3,1777.0) scale(1,0.965)" text-anchor="end">5.0</text>
<line x1="166.5" y1="1638.3" x2="178.0" y2="1638.3" stroke="#333" stroke-width="4.3"/>
<text class="tk" transform="translate(157.3,1651.0) scale(1,0.965)" text-anchor="end">7.5</text>
<text class="lb" transform="translate(243.5,1810.0) scale(1,0.965)" text-anchor="middle">KO-2</text>
<path d="M2104.2,2015.5L2104.2,2014.8L2108.4,2013.7L2114.6,2014.1L2118.8,2012.7L2124.0,2013.1L2127.1,2014.1L2130.3,2008.5L2132.4,2006.4L2133.8,2007.0L2135.9,2010.0L2139.7,2009.5L2142.8,2007.4L2145.5,2002.2L2150.1,1984.5L2154.3,1967.8L2158.0,1954.2L2160.5,1932.3L2163.7,1917.7L2167.2,1902.0L2170.4,1891.6L2171.4,1861.3L2172.7,1819.6L2174.1,1773.7L2175.6,1736.1L2177.2,1707.9L2178.9,1700.6L2180.6,1693.3L2181.8,1715.2L2183.5,1746.5L2185.6,1777.9L2187.7,1830.0L2189.8,1882.2L2191.4,1915.6L2192.9,1928.1L2194.4,1936.5L2196.0,1924.0L2197.7,1882.2L2199.2,1819.6L2200.6,1746.5L2201.9,1683.9L2203.3,1640.1L2205.4,1619.2L2207.3,1602.9L2208.6,1631.7L2210.2,1694.4L2211.7,1746.5L2213.8,1819.6L2215.9,1882.2L2218.0,1919.8L2221.1,1949.0L2225.3,1976.1L2228.4,1989.7L2232.6,2002.2L2235.7,2007.4L2239.9,2010.0L2246.1,2011.6L2254.5,2013.7L2260.3,2014.8L2260.3,2015.5 Z" fill="#EE2C2C"/>
<path d="M411.7,2015.45 L417.7,2014.90 L437.8,2014.90 L443.8,2015.45 ZM445.7,2015.45 L451.7,2014.90 L448.9,2014.90 L452.1,2014.28 L455.6,2014.28 L458.8,2014.90 L456.1,2014.90 L462.1,2015.45 ZM463.9,2015.45 L466.8,2014.90 L468.3,2014.90 L471.2,2015.45 ZM474.9,2015.45 L480.9,2014.90 L474.9,2014.90 L478.1,2014.38 L481.5,2014.38 L484.7,2014.90 L485.3,2014.90 L491.3,2015.45 ZM511.4,2015.45 L514.3,2014.90 L515.8,2014.90 L518.7,2015.45 ZM545.4,2015.45 L550.0,2014.90 L549.5,2014.90 L551.7,2013.88 L554.2,2013.88 L556.5,2014.90 L552.4,2014.90 L557.0,2015.45 ZM560.7,2015.45 L564.4,2014.90 L560.7,2014.90 L562.5,2014.38 L564.4,2014.38 L566.2,2014.90 L566.2,2014.90 L569.8,2015.45 ZM581.9,2015.45 L585.8,2014.90 L583.9,2014.90 L585.8,2013.98 L587.9,2013.98 L589.8,2014.90 L587.8,2014.90 L591.7,2015.45 ZM602.7,2015.45 L606.4,2014.90 L608.2,2014.90 L611.8,2015.45 ZM615.5,2015.45 L618.7,2014.90 L620.3,2014.90 L623.5,2015.45 ZM626.4,2015.45 L630.1,2014.90 L628.3,2014.90 L630.0,2014.38 L632.0,2014.38 L633.7,2014.90 L631.9,2014.90 L635.6,2015.45 ZM644.7,2015.45 L649.1,2014.90 L651.3,2014.90 L655.7,2015.45 ZM657.5,2015.45 L663.5,2014.90 L660.7,2014.90 L664.0,2014.28 L667.5,2014.28 L670.7,2014.90 L678.9,2014.90 L684.9,2015.45 ZM696.6,2015.45 L702.6,2014.90 L700.3,2014.90 L703.6,2014.48 L707.1,2014.48 L710.3,2014.90 L708.1,2014.90 L714.1,2015.45 ZM725.1,2015.45 L728.7,2014.90 L728.3,2014.90 L730.0,2014.28 L731.9,2014.28 L733.7,2014.90 L730.5,2014.90 L734.2,2015.45 ZM745.1,2015.45 L750.3,2014.90 L752.8,2014.90 L757.9,2015.45 ZM801.8,2015.45 L806.1,2014.90 L803.9,2014.90 L806.1,2014.28 L808.4,2014.28 L810.5,2014.90 L808.3,2014.90 L812.7,2015.45 ZM816.4,2015.45 L819.3,2014.90 L820.7,2014.90 L823.7,2015.45 ZM829.1,2015.45 L834.6,2014.90 L829.1,2014.90 L831.8,2014.18 L834.6,2014.18 L837.3,2014.90 L837.3,2014.90 L842.7,2015.45 ZM862.0,2015.45 L867.1,2014.90 L864.6,2014.90 L867.1,2014.38 L869.7,2014.38 L872.2,2014.90 L869.7,2014.90 L874.8,2015.45 ZM882.1,2015.45 L887.9,2014.90 L887.2,2014.90 L890.1,2014.28 L893.1,2014.28 L896.0,2014.90 L890.9,2014.90 L896.7,2015.45 ZM905.8,2015.45 L909.5,2014.90 L905.8,2014.90 L907.6,2014.38 L909.5,2014.38 L911.3,2014.90 L911.3,2014.90 L915.0,2015.45 ZM920.5,2015.45 L926.5,2014.90 L923.7,2014.90 L926.9,2014.43 L930.4,2014.43 L933.6,2014.90 L930.9,2014.90 L936.9,2015.45 ZM949.7,2015.45 L954.8,2014.90 L954.1,2014.90 L956.6,2014.18 L959.3,2014.18 L961.8,2014.90 L957.3,2014.90 L962.5,2015.45 ZM975.2,2015.45 L980.4,2014.90 L982.9,2014.90 L988.0,2015.45 ZM1000.8,2015.45 L1006.8,2014.90 L1010.4,2014.90 L1013.7,2014.48 L1017.2,2014.48 L1020.4,2014.90 L1024.0,2014.90 L1030.0,2015.45 ZM1030.0,2015.45 L1036.0,2014.90 L1055.9,2014.90 L1059.1,2014.48 L1062.6,2014.48 L1065.9,2014.90 L1071.5,2014.90 L1077.5,2015.45 ZM1079.3,2015.45 L1084.7,2014.90 L1079.3,2014.90 L1081.9,2014.28 L1084.8,2014.28 L1087.4,2014.90 L1087.4,2014.90 L1092.8,2015.45 ZM1103.0,2015.45 L1106.3,2014.90 L1107.9,2014.90 L1111.1,2015.45 ZM1119.5,2015.45 L1122.8,2014.90 L1124.5,2014.90 L1127.9,2015.45 ZM1142.5,2015.45 L1145.0,2014.90 L1146.2,2014.90 L1148.7,2015.45 ZM1159.7,2015.45 L1165.7,2014.90 L1170.2,2014.90 L1173.4,2014.48 L1176.9,2014.48 L1180.2,2014.90 L1184.7,2014.90 L1190.7,2015.45 ZM1196.2,2015.45 L1202.2,2014.90 L1201.9,2014.90 L1205.1,2014.38 L1208.6,2014.38 L1211.8,2014.90 L1206.6,2014.90 L1212.6,2015.45 ZM1216.3,2015.45 L1219.9,2014.90 L1221.7,2014.90 L1225.4,2015.45 ZM1235.3,2015.45 L1237.9,2014.90 L1239.2,2014.90 L1241.8,2015.45 ZM1254.6,2015.45 L1260.6,2014.90 L1261.5,2014.90 L1264.7,2014.48 L1268.2,2014.48 L1271.5,2014.90 L1266.9,2014.90 L1272.9,2015.45 ZM1275.4,2015.45 L1281.4,2014.90 L1275.5,2014.90 L1278.7,2014.18 L1282.2,2014.18 L1285.5,2014.90 L1286.2,2014.90 L1292.2,2015.45 ZM1324.0,2015.45 L1327.7,2014.90 L1329.5,2014.90 L1333.1,2015.45 ZM1344.8,2015.45 L1350.8,2014.90 L1350.3,2014.90 L1353.4,2014.18 L1356.7,2014.18 L1359.7,2014.90 L1354.5,2014.90 L1360.5,2015.45 ZM1386.1,2015.45 L1391.2,2014.90 L1386.1,2014.90 L1388.6,2014.18 L1391.3,2014.18 L1393.8,2014.90 L1393.8,2014.90 L1398.9,2015.45 ZM1405.5,2015.45 L1408.4,2014.90 L1406.9,2014.90 L1408.3,2014.38 L1409.9,2014.38 L1411.3,2014.90 L1409.8,2014.90 L1412.8,2015.45 ZM1420.8,2015.45 L1425.2,2014.90 L1424.6,2014.90 L1426.8,2014.38 L1429.1,2014.38 L1431.2,2014.90 L1427.4,2014.90 L1431.8,2015.45 ZM1433.6,2015.45 L1438.0,2014.90 L1440.2,2014.90 L1444.5,2015.45 ZM1462.8,2015.45 L1467.6,2014.90 L1470.0,2014.90 L1474.9,2015.45 ZM1486.5,2015.45 L1490.2,2014.90 L1489.7,2014.90 L1491.5,2014.38 L1493.4,2014.38 L1495.2,2014.90 L1492.0,2014.90 L1495.7,2015.45 ZM1503.0,2015.45 L1505.5,2014.90 L1506.7,2014.90 L1509.2,2015.45 ZM1517.6,2015.45 L1520.1,2014.90 L1521.3,2014.90 L1523.8,2015.45 ZM1533.3,2015.45 L1538.7,2014.90 L1538.0,2014.90 L1540.7,2014.28 L1543.5,2014.28 L1546.1,2014.90 L1541.4,2014.90 L1546.8,2015.45 ZM1548.6,2015.45 L1551.8,2014.90 L1553.4,2014.90 L1556.7,2015.45 ZM1561.4,2015.45 L1567.3,2014.90 L1564.3,2014.90 L1567.2,2014.08 L1570.2,2014.08 L1573.1,2014.90 L1570.2,2014.90 L1576.0,2015.45 ZM1638.1,2015.45 L1644.0,2014.90 L1646.9,2014.90 L1652.7,2015.45 ZM1663.7,2015.45 L1669.7,2014.90 L1675.9,2014.90 L1681.9,2015.45 ZM1685.6,2015.45 L1688.2,2014.90 L1689.5,2014.90 L1692.1,2015.45 ZM1695.8,2015.45 L1698.3,2014.90 L1699.5,2014.90 L1702.0,2015.45 ZM1719.2,2015.45 L1723.0,2014.90 L1719.2,2014.90 L1721.0,2014.38 L1723.0,2014.38 L1724.9,2014.90 L1724.9,2014.90 L1728.7,2015.45 ZM1736.7,2015.45 L1740.4,2014.90 L1738.5,2014.90 L1740.3,2014.38 L1742.2,2014.38 L1744.0,2014.90 L1742.2,2014.90 L1745.8,2015.45 ZM1769.6,2015.45 L1775.6,2014.90 L1781.8,2014.90 L1787.8,2015.45 ZM1800.6,2015.45 L1803.5,2014.90 L1805.0,2014.90 L1807.9,2015.45 ZM1820.7,2015.45 L1823.9,2014.90 L1825.5,2014.90 L1828.7,2015.45 ZM1839.0,2015.45 L1845.0,2014.90 L1858.5,2014.90 L1864.5,2015.45 ZM1882.8,2015.45 L1887.2,2014.90 L1882.8,2014.90 L1884.9,2013.88 L1887.2,2013.88 L1889.4,2014.90 L1889.4,2014.90 L1893.7,2015.45 ZM1895.6,2015.45 L1898.5,2014.90 L1897.0,2014.90 L1898.5,2014.38 L1900.0,2014.38 L1901.4,2014.90 L1900.0,2014.90 L1902.9,2015.45 ZM1910.2,2015.45 L1914.6,2014.90 L1914.0,2014.90 L1916.2,2014.38 L1918.5,2014.38 L1920.6,2014.90 L1916.8,2014.90 L1921.1,2015.45 ZM1924.8,2015.45 L1927.7,2014.90 L1929.2,2014.90 L1932.1,2015.45 ZM1960.2,2015.45 L1966.2,2014.90 L1982.2,2014.90 L1985.5,2014.43 L1989.0,2014.43 L1992.2,2014.90 L2008.3,2014.90 L2014.3,2015.45 ZM2016.1,2015.45 L2019.0,2014.90 L2018.7,2014.90 L2020.1,2014.28 L2021.6,2014.28 L2023.0,2014.90 L2020.5,2014.90 L2023.4,2015.45 ZM2028.9,2015.45 L2034.9,2014.90 L2029.4,2014.90 L2032.6,2014.18 L2036.1,2014.18 L2039.4,2014.90 L2041.1,2014.90 L2047.1,2015.45 ZM2049.0,2015.45 L2055.0,2014.90 L2066.8,2014.90 L2070.0,2014.38 L2073.5,2014.38 L2076.8,2014.90 L2088.6,2014.90 L2094.6,2015.45 ZM2104.9,2015.45 L2109.5,2014.90 L2108.9,2014.90 L2111.2,2014.43 L2113.7,2014.43 L2116.0,2014.90 L2111.9,2014.90 L2116.5,2015.45 Z" fill="#EE2C2C"/>
</g>
<g>
<line x1="178.0" y1="2060.1" x2="178.0" y2="2540.3" stroke="#000" stroke-width="4.3"/>
<line x1="166.5" y1="2519.1" x2="178.0" y2="2519.1" stroke="#333" stroke-width="4.3"/>
<text class="tk" transform="translate(157.3,2532.0) scale(1,0.965)" text-anchor="end">0.0</text>
<line x1="166.5" y1="2393.3" x2="178.0" y2="2393.3" stroke="#333" stroke-width="4.3"/>
<text class="tk" transform="translate(157.3,2407.0) scale(1,0.965)" text-anchor="end">2.5</text>
<line x1="166.5" y1="2267.6" x2="178.0" y2="2267.6" stroke="#333" stroke-width="4.3"/>
<text class="tk" transform="translate(157.3,2281.0) scale(1,0.965)" text-anchor="end">5.0</text>
<line x1="166.5" y1="2141.9" x2="178.0" y2="2141.9" stroke="#333" stroke-width="4.3"/>
<text class="tk" transform="translate(157.3,2155.0) scale(1,0.965)" text-anchor="end">7.5</text>
<text class="lb" transform="translate(243.5,2313.0) scale(1,0.965)" text-anchor="middle">Input</text>
</g>
<path d="M405.5,2519.05L405.5,2518.11L414.6,2517.67L420.1,2515.92L425.6,2516.80L431.0,2515.92L436.5,2517.24L443.8,2518.11L456.6,2518.11L460.3,2517.24L463.9,2515.92L469.4,2516.80L473.0,2515.48L478.5,2516.80L482.2,2515.92L487.7,2516.36L491.3,2515.48L496.8,2516.80L505.9,2517.24L516.9,2517.67L524.2,2516.36L529.7,2516.80L535.1,2515.48L540.6,2516.36L545.4,2515.04L549.0,2515.92L552.7,2514.61L556.3,2517.24L560.7,2517.67L566.2,2516.80L571.7,2516.36L577.1,2515.48L582.6,2516.80L589.9,2517.24L599.1,2517.24L608.2,2516.80L617.3,2515.92L622.8,2517.67L628.3,2517.24L633.7,2515.92L639.2,2516.36L644.0,2518.11L652.0,2516.80L657.5,2515.92L664.8,2515.04L672.1,2515.92L677.6,2516.36L684.9,2516.80L688.5,2517.67L695.8,2516.80L701.3,2517.24L706.8,2516.36L712.3,2516.80L717.8,2515.92L721.4,2515.48L726.9,2517.24L732.4,2517.67L737.8,2518.11L743.3,2517.24L748.8,2516.80L752.4,2517.24L756.1,2516.36L759.8,2517.67L765.2,2516.80L768.9,2515.92L772.5,2517.24L776.2,2515.92L779.8,2517.67L783.5,2518.11L787.1,2516.80L790.8,2515.92L796.3,2517.24L801.8,2516.36L807.2,2516.36L810.9,2517.67L816.4,2517.67L820.0,2514.61L822.9,2512.85L826.6,2515.04L830.2,2518.11L834.6,2517.24L838.3,2515.04L841.9,2517.24L845.6,2515.48L850.0,2515.92L854.7,2518.11L860.2,2516.80L865.7,2515.48L871.1,2515.04L876.6,2516.80L882.1,2516.36L887.6,2517.24L893.1,2516.36L898.5,2516.80L904.0,2515.92L909.5,2517.24L915.0,2516.36L920.5,2516.36L925.9,2517.24L931.4,2516.36L936.9,2515.92L942.4,2517.24L947.8,2516.80L955.1,2517.24L962.5,2517.67L969.8,2517.24L977.1,2515.92L984.4,2514.61L989.8,2516.36L995.3,2517.24L1000.8,2516.36L1006.3,2517.24L1011.8,2516.36L1017.2,2515.92L1024.5,2515.04L1030.0,2516.36L1035.5,2517.24L1039.1,2518.11L1044.6,2516.36L1050.1,2515.04L1053.7,2515.48L1057.4,2517.24L1062.9,2516.80L1068.3,2517.24L1073.8,2516.36L1079.3,2517.24L1086.6,2517.67L1093.9,2517.24L1099.4,2515.04L1104.9,2516.80L1110.4,2517.67L1117.7,2516.36L1123.1,2517.67L1128.6,2517.24L1134.1,2516.80L1139.6,2517.67L1146.9,2515.92L1152.4,2513.73L1157.8,2515.48L1163.3,2514.61L1168.8,2515.48L1174.3,2517.24L1179.7,2516.36L1185.2,2515.48L1190.7,2516.80L1196.2,2517.24L1201.7,2516.80L1207.1,2517.24L1212.6,2515.48L1218.1,2517.24L1223.6,2515.92L1229.1,2516.80L1234.5,2517.24L1241.8,2517.24L1249.1,2517.67L1256.4,2517.67L1261.9,2516.80L1267.4,2518.11L1274.7,2519.05L1282.0,2518.11L1285.7,2516.80L1291.1,2515.04L1296.6,2517.24L1302.1,2516.36L1307.6,2515.92L1313.1,2515.48L1318.5,2516.80L1324.0,2518.11L1327.7,2519.05L1333.1,2517.67L1340.4,2517.24L1347.8,2517.24L1353.2,2517.67L1358.7,2516.36L1363.1,2514.61L1367.8,2516.80L1373.3,2517.67L1378.8,2517.24L1384.3,2517.67L1391.6,2517.24L1398.9,2517.24L1406.2,2517.67L1411.7,2517.24L1415.3,2516.80L1419.0,2517.67L1422.6,2516.36L1426.3,2517.24L1431.8,2516.36L1437.2,2516.80L1442.7,2517.24L1448.2,2517.67L1453.7,2517.24L1459.1,2516.36L1464.6,2516.36L1470.1,2517.24L1475.6,2516.80L1481.1,2517.24L1486.5,2516.36L1492.0,2515.04L1496.8,2513.29L1501.1,2515.92L1504.8,2517.67L1510.3,2517.24L1515.8,2516.80L1521.2,2517.24L1526.7,2516.36L1532.2,2517.67L1537.7,2517.24L1543.1,2516.36L1548.6,2516.80L1554.1,2517.67L1559.6,2517.24L1565.1,2516.36L1570.5,2514.61L1576.0,2516.36L1581.5,2517.24L1587.0,2517.67L1592.5,2515.92L1596.1,2514.61L1601.6,2516.36L1607.1,2517.24L1612.5,2518.11L1618.0,2518.11L1623.5,2517.24L1629.0,2517.67L1634.5,2516.80L1639.9,2515.48L1644.3,2513.29L1649.1,2515.92L1654.5,2517.24L1660.0,2517.67L1667.3,2517.67L1674.6,2517.24L1680.1,2516.36L1683.7,2514.61L1689.2,2516.36L1694.7,2517.24L1700.2,2517.67L1705.7,2517.67L1711.1,2516.36L1716.6,2517.24L1720.3,2518.11L1725.7,2517.24L1733.0,2516.36L1740.4,2516.36L1747.7,2516.80L1755.0,2517.24L1760.4,2516.36L1767.7,2515.92L1775.0,2516.36L1782.4,2515.92L1787.8,2517.24L1793.3,2517.67L1798.8,2517.67L1804.3,2517.24L1809.7,2517.67L1815.2,2518.11L1820.7,2517.24L1826.2,2516.36L1831.7,2515.92L1837.1,2516.80L1842.6,2517.67L1846.3,2517.24L1849.9,2515.92L1855.4,2516.36L1860.9,2515.92L1866.4,2515.04L1871.8,2514.17L1877.3,2515.92L1881.0,2517.24L1884.6,2516.36L1888.3,2517.67L1891.9,2519.05L1895.6,2517.24L1901.1,2516.36L1906.5,2517.24L1912.0,2516.80L1917.5,2517.24L1923.0,2516.36L1930.3,2515.92L1937.6,2516.36L1944.9,2515.92L1952.2,2515.48L1957.7,2517.24L1961.3,2516.36L1966.8,2517.24L1974.1,2517.67L1981.4,2517.67L1986.9,2518.11L1990.5,2519.05L1996.0,2517.67L2003.3,2517.24L2007.0,2518.11L2010.6,2519.05L2016.1,2517.24L2021.6,2515.92L2027.1,2516.80L2032.5,2517.24L2038.0,2516.80L2043.5,2516.36L2047.1,2517.67L2052.6,2516.36L2058.1,2514.61L2063.6,2515.04L2067.2,2515.48L2070.9,2513.73L2074.5,2515.48L2080.0,2514.61L2085.5,2515.04L2091.0,2514.61L2096.4,2515.48L2101.9,2515.92L2107.4,2515.04L2112.9,2514.17L2118.4,2514.17L2123.8,2515.04L2129.3,2514.61L2134.8,2515.04L2140.3,2516.36L2145.8,2515.48L2149.4,2515.04L2154.9,2516.80L2160.4,2517.24L2165.8,2516.80L2171.3,2516.36L2176.8,2517.67L2180.5,2519.05L2185.9,2517.67L2193.2,2517.24L2200.5,2517.24L2207.8,2516.80L2215.1,2516.36L2220.6,2515.92L2224.3,2515.04L2229.8,2516.36L2235.2,2516.80L2240.7,2516.36L2244.4,2515.92L2249.8,2516.80L2255.3,2516.36L2259.0,2517.24L2259.7,2519.05L2259.7,2519.05 Z" fill="#000"/>
<text class="ti" transform="translate(78.9,1293.5) rotate(-90) scale(1,0.965)" text-anchor="middle">P0 H3K4me3 ChIP-seq</text>
<g>
<line x1="178.0" y1="2598.2" x2="178.0" y2="2847.0" stroke="#000" stroke-width="4.3"/>
<line x1="309.4" y1="2847.4" x2="2354.1" y2="2847.4" stroke="#000" stroke-width="4.3"/>
<text class="ti" transform="translate(78.9,2722.5) rotate(-90) scale(1,0.965)" text-anchor="middle">Genes</text>
<line x1="825.9" y1="2847.4" x2="825.9" y2="2858.8" stroke="#333" stroke-width="4.3"/>
<text class="tk" transform="translate(825.9,2893.8) scale(1,0.965)" text-anchor="middle">112880000</text>
<line x1="1401.5" y1="2847.4" x2="1401.5" y2="2858.8" stroke="#333" stroke-width="4.3"/>
<text class="tk" transform="translate(1401.5,2893.8) scale(1,0.965)" text-anchor="middle">112900000</text>
<line x1="1977.1" y1="2847.4" x2="1977.1" y2="2858.8" stroke="#333" stroke-width="4.3"/>
<text class="tk" transform="translate(1977.1,2893.8) scale(1,0.965)" text-anchor="middle">112920000</text>
<text class="ti" transform="translate(1332,2944.4) scale(1,0.965)" text-anchor="middle">chr13 position (bp)</text>
<g stroke="#006400" fill="none" stroke-width="4.2">
<line x1="474.5" y1="2736.1" x2="2188.5" y2="2736.1" stroke-linecap="round"/>
<path d="M483.3,2727.5 L474.3,2736.1 L483.3,2744.7M520.4,2727.5 L511.4,2736.1 L520.4,2744.7M557.6,2727.5 L548.6,2736.1 L557.6,2744.7M594.8,2727.5 L585.8,2736.1 L594.8,2744.7M631.9,2727.5 L622.9,2736.1 L631.9,2744.7M669.1,2727.5 L660.1,2736.1 L669.1,2744.7M706.3,2727.5 L697.3,2736.1 L706.3,2744.7M743.5,2727.5 L734.5,2736.1 L743.5,2744.7M780.7,2727.5 L771.7,2736.1 L780.7,2744.7M817.8,2727.5 L808.8,2736.1 L817.8,2744.7M855.0,2727.5 L846.0,2736.1 L855.0,2744.7M892.2,2727.5 L883.2,2736.1 L892.2,2744.7M929.4,2727.5 L920.4,2736.1 L929.4,2744.7M966.6,2727.5 L957.6,2736.1 L966.6,2744.7M1003.7,2727.5 L994.7,2736.1 L1003.7,2744.7M1040.9,2727.5 L1031.9,2736.1 L1040.9,2744.7M1078.1,2727.5 L1069.1,2736.1 L1078.1,2744.7M1115.3,2727.5 L1106.3,2736.1 L1115.3,2744.7M1152.5,2727.5 L1143.5,2736.1 L1152.5,2744.7M1189.6,2727.5 L1180.6,2736.1 L1189.6,2744.7M1226.8,2727.5 L1217.8,2736.1 L1226.8,2744.7M1264.0,2727.5 L1255.0,2736.1 L1264.0,2744.7M1301.2,2727.5 L1292.2,2736.1 L1301.2,2744.7M1338.4,2727.5 L1329.4,2736.1 L1338.4,2744.7M1375.5,2727.5 L1366.5,2736.1 L1375.5,2744.7M1412.7,2727.5 L1403.7,2736.1 L1412.7,2744.7M1449.9,2727.5 L1440.9,2736.1 L1449.9,2744.7M1487.1,2727.5 L1478.1,2736.1 L1487.1,2744.7M1524.3,2727.5 L1515.3,2736.1 L1524.3,2744.7M1561.4,2727.5 L1552.4,2736.1 L1561.4,2744.7M1598.6,2727.5 L1589.6,2736.1 L1598.6,2744.7M1635.8,2727.5 L1626.8,2736.1 L1635.8,2744.7M1673.0,2727.5 L1664.0,2736.1 L1673.0,2744.7M1710.2,2727.5 L1701.2,2736.1 L1710.2,2744.7M1747.3,2727.5 L1738.3,2736.1 L1747.3,2744.7M1784.5,2727.5 L1775.5,2736.1 L1784.5,2744.7M1821.7,2727.5 L1812.7,2736.1 L1821.7,2744.7M1858.9,2727.5 L1849.9,2736.1 L1858.9,2744.7M1896.1,2727.5 L1887.1,2736.1 L1896.1,2744.7M1933.2,2727.5 L1924.2,2736.1 L1933.2,2744.7M1970.4,2727.5 L1961.4,2736.1 L1970.4,2744.7M2007.6,2727.5 L1998.6,2736.1 L2007.6,2744.7M2044.8,2727.5 L2035.8,2736.1 L2044.8,2744.7M2082.0,2727.5 L2073.0,2736.1 L2082.0,2744.7M2119.1,2727.5 L2110.1,2736.1 L2119.1,2744.7M2156.3,2727.5 L2147.3,2736.1 L2156.3,2744.7M2193.5,2727.5 L2184.5,2736.1 L2193.5,2744.7" stroke-linejoin="miter"/>
</g>
<g fill="#006400">
<rect x="474.0" y="2722.8" width="7.1" height="27"/>
<rect x="509.8" y="2722.8" width="3.7" height="27"/>
<rect x="621.7" y="2722.8" width="5.3" height="27"/>
<rect x="670.1" y="2722.8" width="2.2" height="27"/>
<rect x="723.0" y="2722.8" width="3.3" height="27"/>
<rect x="853.7" y="2722.8" width="5.3" height="27"/>
<rect x="915.3" y="2722.8" width="5.6" height="27"/>
<rect x="1019.7" y="2722.8" width="2.7" height="27"/>
<rect x="1039.7" y="2722.8" width="4.6" height="27"/>
<rect x="1150.3" y="2722.8" width="2.4" height="27"/>
<rect x="1167.7" y="2722.8" width="5.2" height="27"/>
<rect x="1271.0" y="2722.8" width="4.5" height="27"/>
<rect x="1366.0" y="2722.8" width="3.4" height="27"/>
<rect x="1443.9" y="2722.8" width="2.8" height="27"/>
<rect x="1499.5" y="2722.8" width="2.8" height="27"/>
<rect x="1545.1" y="2722.8" width="2.4" height="27"/>
<rect x="1602.1" y="2722.8" width="4.2" height="27"/>
<rect x="1657.3" y="2722.8" width="3.1" height="27"/>
<rect x="1683.7" y="2722.8" width="2.4" height="27"/>
<rect x="1715.7" y="2722.8" width="3.8" height="27"/>
<rect x="1778.0" y="2722.8" width="2.7" height="27"/>
<rect x="1814.5" y="2722.8" width="5.5" height="27"/>
<rect x="1907.0" y="2722.8" width="3.1" height="27"/>
<rect x="1935.5" y="2722.8" width="2.1" height="27"/>
<rect x="1987.4" y="2722.8" width="2.0" height="27"/>
<rect x="2023.9" y="2722.8" width="4.1" height="27"/>
<rect x="2184.9" y="2722.8" width="5.2" height="27"/>
</g>
<text class="gn" transform="translate(1331.5,2729) scale(1,0.965)" text-anchor="middle">Skiv2l2</text>
<g stroke="#00008B" fill="none" stroke-width="4.2">
<line x1="400.5" y1="2826.7" x2="477.2" y2="2826.7" stroke-linecap="round"/>
<path d="M393.7,2818.2 L402.2,2826.7 L393.7,2835.1M431.2,2818.2 L439.7,2826.7 L431.2,2835.1"/>
</g>
<g fill="#00008B">
<rect x="446.0" y="2813.2" width="5.1" height="27"/>
<rect x="464.6" y="2813.2" width="12.3" height="27"/>
</g>
<text class="gn" transform="translate(439.2,2819.3) scale(1,0.965)" text-anchor="middle">Ppap2a</text>
<g stroke="#00008B" fill="none" stroke-width="4.2">
<line x1="2201" y1="2645.6" x2="2261" y2="2645.6" stroke-linecap="round"/>
<path d="M2191.8,2637.2 L2200.3,2645.6 L2191.8,2654.0M2227.8,2637.2 L2236.3,2645.6 L2227.8,2654.0M2252.3,2637.2 L2260.8,2645.6 L2252.3,2654.0"/>
</g>
<g fill="#00008B">
<rect x="2199.5" y="2632.2" width="6.9" height="27"/>
<rect x="2254.3" y="2632.2" width="1.9" height="27"/>
</g>
<text class="gn" transform="translate(2230.4,2638) scale(1,0.965)" text-anchor="middle">Dhx29</text>
</g>
</svg></body></html>
